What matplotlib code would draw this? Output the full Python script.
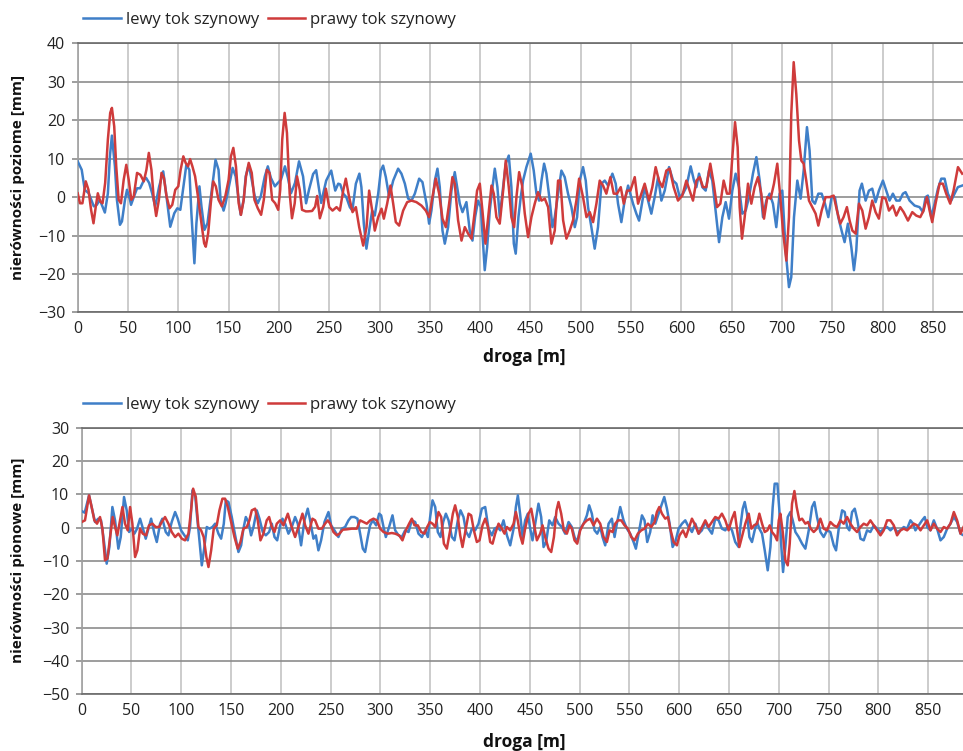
import matplotlib
matplotlib.use("Agg")
import matplotlib.pyplot as plt
import numpy as np

plt.rcParams['font.family'] = ['Open Sans', 'DejaVu Sans']

# horizontal irregularities (upper chart), distance [m] / value [mm]
poz_lewy_x = [0, 4, 7, 11, 16, 19, 22, 27, 30, 32, 34, 37, 39, 42, 44, 47, 49, 52, 53, 56,
              59, 62, 66, 68, 71, 74, 77, 81, 85, 87, 92, 96, 99, 102, 106, 108, 111, 113, 116, 118,
              121, 123, 126, 129, 132, 135, 137, 140, 142, 145, 147, 151, 154, 157, 160, 162, 165, 167, 170, 173,
              176, 179, 182, 186, 189, 192, 196, 199, 202, 206, 209, 212, 216, 220, 224, 227, 230, 234, 237, 240,
              242, 244, 247, 252, 256, 259, 261, 264, 267, 270.5, 273, 276.5, 280, 282, 284.4, 287, 289.7, 292.7, 295.3, 298.7,
              301.3, 303.6, 306.3, 309.6, 313.6, 318.5, 321.8, 325.2, 328.5, 331.8, 335.1, 339.4, 342.7, 346.7, 349.3, 351.6, 355, 357.6, 359.9, 362.6,
              364.9, 368.2, 371.5, 374.8, 377.2, 379.8, 382.5, 386.4, 389.7, 392.4, 395, 398, 400.7, 403, 404.6, 407, 409.6, 412.3, 414.6, 417.2,
              419.5, 422.9, 425.5, 428.5, 431.1, 433.5, 435.4, 438.1, 440.4, 442.7, 446, 450.3, 453.3, 456, 458.6, 461, 463.6, 465.9, 469.2, 471.9,
              474.2, 477.5, 480.8, 484.1, 487.4, 490.8, 494.1, 496.4, 499, 502.3, 505, 507.3, 510.6, 513.9, 517.2, 520.6, 523.9, 527.2, 531.5, 534.8,
              537.1, 540.4, 543.7, 547.1, 552, 555.3, 558, 560.3, 563.6, 566.9, 570.2, 573.5, 576.9, 580.2, 583.5, 587.8, 591.8, 595.1, 598.4, 601.7,
              605, 609.3, 612.6, 615, 617.6, 620.9, 624.2, 627.5, 630.8, 634.1, 637.5, 640.8, 644.1, 647.4, 650.7, 654, 657.3, 660.6, 664, 667.3,
              671.2, 674.6, 677.9, 681.2, 684.5, 687.8, 691.1, 694.4, 697.7, 700.4, 703.7, 707, 709.3, 712, 715.3, 718.6, 721.6, 724.9, 727.5, 730.2,
              732.8, 736.2, 739.5, 742.8, 746.1, 749.4, 752.7, 756, 759.3, 762.3, 765.6, 769, 771.6, 773.9, 777.2, 779.5, 783.2, 786.5, 789.8, 793.1,
              796.4, 800.4, 803.7, 807, 810.3, 813.7, 817, 820.3, 822.9, 826.9, 831.9, 836.8, 840.2, 842.8, 845.1, 848.4, 851.8, 855.1, 858.4, 861.7,
              865, 868.3, 871.6, 874.9, 879.2]
poz_lewy_y = [9.3, 7.1, 1.9, 1.0, -2.4, -2.0, -0.7, -4.0, 1.0, 10.6, 16.0, 8.0, -0.7, -7.2, -6.3, -0.7, 1.9, -0.7, -2.0, 0.2,
              2.3, 2.3, 4.5, 5.0, 3.7, 1.0, -2.4, 2.8, 6.7, 2.8, -7.7, -4.2, -2.9, -3.3, 4.5, 8.4, 7.1, -4.2, -17.2, -6.8,
              2.8, -2.4, -8.5, -6.8, -0.7, 5.4, 9.7, 7.1, -0.7, -3.5, -1.6, 3.7, 7.6, 5.4, -0.7, -4.6, -0.7, 5.4, 8.4, 4.5,
              0.2, -1.6, 0.2, 5.4, 8.0, 5.0, 2.8, 3.7, 4.5, 8.0, 5.0, 1.0, 3.7, 9.3, 5.4, -1.6, 2.0, 6.0, 7.0, 2.0,
              -1.5, 0.9, 4.3, 6.9, 1.7, 3.5, 3.3, 0.9, 0.0, -2.6, -3.5, 3.5, 6.1, 2.6, -6.9, -13.4, -8.7, -3.5, -4.8, 0.9,
              6.9, 8.2, 5.2, 0.0, 4.3, 7.4, 6.1, 3.5, -0.4, -0.9, 0.9, 4.8, 3.9, -1.7, -6.9, -3.5, 4.3, 7.4, 2.6, -8.7,
              -12.1, -7.8, 1.7, 6.5, 2.6, -1.7, -3.9, -1.3, -8.7, -11.3, -5.2, -0.9, -2.6, -12.1, -19.0, -13.0, -3.5, 2.6, 7.4, 2.6,
              -5.2, 2.6, 8.7, 10.8, 2.6, -12.1, -14.7, -5.2, 0.0, 4.3, 7.8, 11.3, 6.9, 0.9, -0.9, 4.3, 8.7, 6.1, -0.9, -7.8,
              -5.2, 0.9, 6.9, 5.2, 0.9, -2.6, -7.8, -5.2, 4.3, 7.8, 4.3, -2.6, -7.8, -13.4, -7.8, 3.5, 4.3, 3.0, 6.1, 3.5,
              -1.7, -6.5, -0.9, 3.0, -1.7, -4.3, -6.1, -2.6, 2.6, -0.9, -4.3, 0.0, 5.2, -0.9, 1.7, 7.8, 4.3, 3.5, 0.0, 0.9,
              2.6, 8.0, 4.3, 2.6, 6.1, 2.6, 1.7, 6.9, 4.3, -3.5, -11.7, -5.2, -1.3, -5.6, 1.7, 6.1, 2.6, -4.3, -3.5, 0.0,
              6.1, 10.4, 4.3, -5.2, -0.9, 0.9, -1.7, -7.8, 0.9, 1.7, -13.9, -23.4, -20.8, -5.2, 4.3, -0.4, 6.9, 18.2, 12.1, -0.9,
              -1.7, 0.9, 0.9, -1.7, -5.2, 0.0, 0.0, -5.2, -8.7, -11.7, -6.9, -13.0, -19.0, -13.9, 1.7, 3.5, -0.9, 1.7, 2.2, -1.3,
              1.7, 4.3, 1.7, -0.9, 0.9, -0.9, -0.9, 0.9, 1.3, -0.9, -2.2, -2.6, -3.9, 0.0, 0.4, -5.2, -1.7, 2.2, 4.8, 4.8,
              0.9, -0.9, 0.9, 2.6, 3.0]

poz_prawy_x = [0, 2.3, 4.7, 8, 10.7, 13.3, 15.7, 18, 20, 22.3, 24.7, 27.3, 30, 32.3, 34, 36.3, 38.3, 40.7, 43, 45.7,
               48.3, 50.7, 53.3, 55.7, 59, 62.3, 65.7, 68.3, 70.7, 73.3, 75.7, 78, 80.7, 83.3, 85.7, 88.3, 91.3, 94, 97, 100,
               102.3, 105, 107.3, 109.7, 111.7, 114, 116.7, 120, 123, 125.7, 127.3, 129.7, 132.3, 134.7, 137.3, 140, 143.3, 146.7, 150, 152.3,
               154.7, 157.3, 160, 162.3, 165, 167.3, 170, 173, 175.7, 179, 182.3, 185, 188, 190.7, 193.3, 196.3, 199.3, 201.3, 203.3, 205.7,
               208, 210.7, 213, 215.7, 218, 220.7, 223, 226.7, 229, 233, 236, 238, 240.7, 244, 246.7, 250, 253.3, 257.3, 260.6, 263.9,
               266.5, 269.8, 273.2, 276.5, 279.8, 283.8, 287.1, 289.7, 292.7, 295.3, 298.7, 302, 304.3, 307.6, 310.9, 313.6, 316.2, 319.5, 323.5, 327.5,
               331.8, 336.7, 341.7, 346, 349.3, 352.6, 356, 359.3, 362.6, 365.9, 369.2, 372.5, 374.8, 378.1, 381.5, 384.8, 388.1, 391.4, 394, 397,
               399.7, 402.3, 405.3, 408, 411.3, 413.6, 416.2, 419.5, 422.9, 425.5, 428.5, 431.1, 433.8, 436.1, 438.8, 441.7, 444.4, 447.7, 451, 454.3,
               457.6, 461, 464.3, 467.6, 470.9, 474.2, 477.5, 479.8, 482.5, 485.8, 489.1, 492.4, 495.7, 498.4, 502.3, 505.7, 509, 512.3, 515.6, 518.9,
               522.2, 525.5, 529.5, 532.8, 536.1, 539.8, 542.8, 546.1, 549.4, 553.7, 557, 560.3, 563.6, 567.9, 571.2, 574.5, 577.8, 581.2, 585.1, 588.4,
               592.4, 596.7, 601, 605, 608.3, 611.6, 615, 618.3, 621.6, 624.9, 628.8, 632.2, 635.5, 638.8, 642.1, 645.4, 648.1, 650.7, 653.4, 656,
               658, 660.3, 663, 666.3, 669.6, 672.9, 676.2, 679.5, 682.2, 685.5, 688.8, 692.1, 695.4, 698.4, 701, 704.4, 707, 709.3, 711.7, 714.3,
               717, 719.3, 721.6, 724.2, 726.9, 730.2, 733.5, 736.2, 739.5, 743.4, 747.4, 751.4, 754.7, 758, 761.3, 764.6, 767.3, 770, 773.3, 776.6,
               779.9, 783.2, 786.5, 789.8, 793.1, 796.4, 799.8, 803.1, 806.4, 810.3, 813.7, 817.6, 821, 825.3, 829.6, 833.5, 837.5, 840.8, 844.1, 846.8,
               849.4, 852.7, 856.7, 860, 863.3, 867.3, 870.6, 875, 879.2]
poz_prawy_y = [1.0, -1.6, -1.6, 4.1, 1.9, -3.3, -6.8, -2.4, 1.0, -1.1, -1.6, 3.7, 15.0, 21.9, 23.2, 18.4, 8.0, -0.7, -1.6, 4.5,
               8.4, 4.5, -0.7, 0.2, 6.3, 5.8, 4.1, 7.1, 11.5, 7.1, -0.7, -4.9, -0.7, 6.3, 5.0, 0.2, -2.9, -2.0, 1.9, 2.8,
               7.1, 10.6, 8.9, 8.0, 9.9, 8.0, 5.4, -0.7, -6.8, -12.0, -12.9, -9.4, -1.6, 4.1, 2.8, -0.7, -2.4, 0.2, 4.5, 10.6,
               12.8, 8.0, -1.6, -4.6, -0.7, 5.4, 8.9, 6.3, -0.7, -2.9, -4.6, -0.7, 7.1, 6.3, -0.7, -1.6, -3.3, 1.9, 15.0, 21.9,
               16.7, 1.0, -5.5, -1.6, 5.4, 1.9, -3.3, -3.7, -3.7, -3.6, -2.5, 0.3, -5.5, -2.6, 2.2, -2.6, -3.5, -2.6, -3.5, 1.7,
               4.8, 0.0, -3.9, -2.6, -7.8, -12.6, -7.8, 1.7, -3.5, -8.7, -5.2, -3.0, -5.6, -1.7, 3.0, -1.7, -6.5, -7.4, -3.5, -1.3,
               -0.9, -1.3, -2.2, -3.5, -5.2, 0.0, 4.8, 0.9, -5.6, -7.8, -1.7, 5.2, 3.5, -6.0, -11.3, -7.8, -9.5, -10.8, -5.2, 1.7,
               3.5, -3.5, -12.1, -5.2, 3.0, 0.9, -5.2, -6.9, 1.7, 9.5, 2.6, -5.2, -7.8, 0.0, 6.5, 3.0, -4.3, -10.4, -5.2, -1.7,
               1.3, -0.9, -0.4, -2.6, -12.1, -8.7, 4.3, 4.3, -6.0, -10.8, -8.7, -6.0, -0.9, 4.8, 0.0, -5.2, -3.9, -6.5, -1.7, 4.3,
               3.0, 0.9, 5.2, 0.9, 0.9, 2.6, -1.7, 1.7, 1.7, 5.2, -1.7, 0.9, 3.5, -0.9, 2.6, 7.8, 4.3, 2.6, 6.9, 7.4,
               2.6, -0.9, 0.4, 4.3, 1.7, -0.9, 4.3, 5.2, 2.6, 2.6, 8.7, 3.5, -2.6, -1.7, 4.3, 0.9, 0.9, 10.4, 19.5, 13.0,
               -2.6, -10.8, -5.2, 3.5, -1.7, 2.6, 5.2, 0.9, -5.6, 0.0, -0.4, 3.5, 8.7, 0.0, -8.7, -16.5, -5.2, 21.6, 35.1, 26.8,
               14.7, 9.5, 8.7, 4.3, -0.9, -2.6, -4.3, -7.4, -3.5, 0.0, 0.0, 0.4, -3.5, -6.9, -5.2, -2.6, -6.1, -8.7, -9.5, -1.7,
               -3.5, -8.2, -5.2, -0.9, -3.9, -5.6, 0.0, -0.4, -3.5, -2.2, -4.8, -2.6, -3.9, -6.1, -3.9, -4.8, -5.2, -3.5, 0.0, -3.5,
               -6.5, -1.7, 3.5, 3.5, 0.9, -1.7, 1.7, 7.8, 6.1]

# vertical irregularities (lower chart)
pion_lewy_x = [0, 3, 7.4, 10.7, 13.4, 16.7, 19.4, 21.8, 25.1, 27.8, 30.8, 33.5, 36.8, 39.2, 42.5, 45.2, 47.6, 50.2, 52.9, 55.6,
               58.6, 62, 64.3, 67, 69.7, 73, 75.4, 78.7, 81, 84.4, 87.1, 90.4, 93.8, 96.4, 99.8, 103.1, 106.5, 108.8, 111.2, 113.9,
               115.9, 117.9, 120.6, 123.2, 125.6, 128.3, 131.3, 134, 137.3, 140, 142.7, 144.7, 147.4, 150.7, 154.1, 157.4, 160.1, 162.4, 164.8, 167.4,
               170.1, 172.5, 175.8, 178.5, 181.8, 184.9, 188.2, 190.9, 193.6, 196.3, 199.3, 201.6, 204.3, 207.6, 211, 214.3, 217, 220.3, 223.7, 227,
               229.4, 232.7, 235.1, 237.7, 240.4, 243.8, 247.8, 250.5, 253.8, 257.8, 261.2, 264.5, 267.9, 270.6, 273.9, 276.9, 279.6, 282.3, 284.6, 287.3,
               289.6, 292.3, 295.7, 298.7, 300.7, 303.1, 305.4, 308.7, 312.1, 314.8, 318.1, 321.5, 324.8, 328.2, 331.5, 334.9, 338.2, 341.6, 344.9, 347.6,
               349.9, 352.3, 355, 357.6, 360.3, 363, 365.7, 368.4, 371.7, 374.4, 377.7, 380.4, 383.4, 386.1, 389.1, 391.8, 395.1, 398.5, 401.8, 405.2,
               408.5, 411.9, 414.6, 417.6, 420.3, 423.6, 427, 430.3, 433.7, 436, 438, 440.3, 442.7, 445.3, 448, 450.4, 452.7, 455.4, 458.7, 461.4,
               463.8, 466.4, 469.5, 472.8, 475.5, 478.8, 482.2, 485.5, 488.9, 492.2, 494.9, 497.6, 500.6, 504, 507.3, 509.6, 512.3, 515, 517.7, 520.7,
               523, 525.7, 529.1, 532.4, 535.1, 537.4, 540.8, 544.1, 547.5, 550.8, 554.2, 556.5, 559.2, 562.6, 565.2, 567.9, 570.9, 573.3, 576, 579.3,
               582.7, 585, 587.7, 590.4, 593.4, 596.1, 599.4, 602.8, 606.1, 609.5, 612.8, 616.2, 619.5, 622.8, 626.2, 629.5, 632.9, 636.2, 639.6, 642.9,
               646.3, 649.6, 653, 656.3, 659.7, 661.4, 663.8, 665.8, 668.1, 670.5, 673.1, 675.8, 678.2, 680.5, 683.2, 685.9, 688.9, 691.6, 693.9, 695.9,
               698.6, 700.6, 702.6, 704.3, 706.6, 709, 711.7, 714, 716.7, 720, 723.4, 726.7, 730.1, 733.4, 735.8, 738.4, 741.8, 745.1, 748.5, 751.8,
               755.2, 757.5, 760.2, 763.6, 766.2, 768.6, 770.9, 773.6, 776.3, 779, 782, 785.3, 788.7, 792, 795.4, 798.7, 802.1, 805.4, 808.8, 812.1,
               815.5, 818.8, 822.2, 825.5, 828.9, 832.2, 834.9, 837.2, 840.6, 843.9, 846.6, 849, 852.3, 855.7, 859, 862.4, 865.7, 869.1, 872.4, 875.8,
               879.1, 882.5, 885.5]
pion_lewy_y = [5.0, 4.5, 9.7, 5.2, 1.7, 2.7, 2.2, -2.8, -10.8, -5.8, 6.2, 2.2, -6.3, -2.8, 9.2, 5.2, -1.3, -0.3, -1.8, -0.3,
               2.7, -0.8, -3.3, -0.3, 2.7, -1.8, -4.3, 1.2, 2.7, -1.3, -2.3, 1.7, 4.7, 2.7, -0.8, -2.3, -3.8, 0.2, 11.2, 9.7,
               3.2, -2.8, -11.3, -5.8, 0.2, -0.3, 0.2, 1.2, -1.8, -3.3, 1.2, 8.2, 7.7, 3.2, -2.3, -7.3, -5.3, -0.3, 3.2, 1.7,
               -2.3, 0.2, 5.2, 2.7, -1.3, -2.3, -1.3, 1.2, -2.8, -3.8, 0.7, 2.7, 1.2, -1.8, 0.2, 3.2, 1.2, -5.3, 2.2, 5.7,
               2.2, -3.3, -2.3, -6.8, -3.8, 1.7, 4.7, 0.7, -0.8, -2.8, -0.3, 0.2, 2.2, 3.2, 3.2, 2.7, -1.8, -6.3, -7.3, -2.8,
               0.7, 2.2, 0.7, 4.2, 3.7, 0.2, -2.8, 0.2, 3.7, -0.8, -2.3, -2.8, -0.8, -1.3, 2.2, 1.7, -1.8, -2.8, -0.8, -2.8,
               3.2, 8.2, 6.2, -1.3, -2.8, 1.7, 4.2, 2.2, -2.8, -3.8, 2.2, 5.2, 3.2, -1.3, -2.8, -0.3, -0.8, 1.2, 5.7, 6.2,
               -0.3, -2.3, -0.3, 0.2, -0.8, 2.2, -2.3, -5.3, -0.3, 6.2, 9.7, 4.0, -2.8, 2.2, 4.2, -0.3, -3.8, 1.2, 7.2, 3.2,
               -5.8, -4.3, 2.2, 0.7, 3.2, 1.2, 0.2, -1.8, 1.7, 0.2, -2.8, -4.3, -0.3, 1.2, 3.7, 6.7, 4.2, -0.8, -1.8, 0.2,
               -2.8, -5.3, 1.2, 2.7, -2.8, 1.2, 6.2, 2.2, -0.3, -1.8, -4.3, -6.3, -1.8, 3.7, 2.2, -4.3, -1.3, 3.7, 1.2, 4.2,
               7.2, 9.2, 5.7, 1.2, -5.8, -4.3, -0.3, 1.2, 2.2, 0.2, -1.3, 1.2, -1.8, -0.8, 1.7, -0.3, -1.8, 2.7, 2.2, -0.3,
               -0.8, 0.7, -0.8, -4.3, -5.8, 0.2, 5.7, 7.7, 4.2, -2.8, -4.3, -0.8, 1.7, -0.3, -1.8, -6.8, -12.8, -5.8, 6.2, 13.2,
               13.2, 5.2, -5.8, -13.3, -5.8, 3.2, 4.7, 2.2, -1.3, -2.8, -4.8, -6.3, -0.8, 6.2, 7.7, 3.2, -1.3, -2.8, -0.8, -1.3,
               -5.3, -6.8, -0.3, 5.2, 4.7, 0.2, -0.8, 4.7, 5.7, 2.2, -3.3, -3.8, -0.8, -1.3, 0.7, -0.3, -1.3, -0.3, 0.2, -0.8,
               0.2, -1.3, -0.8, 0.2, -0.3, 2.2, 1.2, -0.8, 0.7, 2.2, 3.2, 0.2, -0.8, 2.2, -0.3, -3.8, -2.8, -0.3, 1.2, 3.2,
               1.7, -1.8, -2.3]

pion_prawy_x = [0, 3.3, 7.4, 10, 12.7, 15.4, 18.4, 20.8, 23.4, 25.8, 28.5, 31.1, 33.5, 35.8, 38.5, 40.9, 43.5, 46.2, 48.6, 50.9,
                53.6, 55.9, 58.6, 61.3, 64.6, 67.6, 71, 74.3, 77.7, 80.4, 83.7, 87.1, 90.4, 93.8, 97.1, 100.5, 103.8, 107.2, 109.8, 111.9,
                114.6, 117.2, 119.9, 122.5, 125.2, 127.3, 130, 132.6, 135.6, 138.3, 141.3, 144, 146.7, 150, 153.4, 156.7, 159.4, 162.4, 165.8, 168.4,
                170.8, 174.1, 176.8, 179.5, 182.5, 185.8, 188.2, 190.9, 193.6, 195.9, 199.3, 202.6, 207, 210.3, 214.3, 217.6, 221.7, 224.4, 227.7, 231.7,
                234.4, 237.7, 241.1, 244.4, 247.1, 249.5, 252.8, 256.2, 258.8, 262.2, 266.2, 271.2, 276.3, 279.6, 283, 286.3, 289.7, 293, 296.4, 299.7,
                303.1, 307.4, 311.4, 314.8, 318.8, 322.1, 325.5, 328.8, 331.5, 334.2, 337.5, 340.9, 344.2, 346.9, 349.6, 352.3, 355, 358.3, 361, 363.7,
                366.7, 370, 372.7, 375, 377.7, 380.1, 382.4, 385.8, 388.5, 391.1, 393.8, 396.8, 399.5, 402.5, 405.2, 407.9, 410.2, 412.6, 415.2, 418.6,
                421.9, 424.6, 427, 430.3, 433.7, 436, 438, 440.3, 442.7, 445.3, 448.7, 451.4, 454.1, 457.1, 460.4, 462.8, 465.4, 468.8, 471.5, 474.2,
                476.8, 478.8, 481.5, 484.2, 487.2, 489.9, 492.2, 494.9, 497.6, 500.6, 504, 507.3, 510.7, 514, 517.4, 520.7, 524.1, 527.4, 530.1, 533.1,
                535.8, 538.5, 541.8, 545.1, 548.5, 551.9, 555.2, 558.5, 561.9, 565.2, 568.6, 571.9, 575.3, 577.6, 580, 582.7, 586, 588.7, 591, 594.4,
                597.7, 600.4, 603.8, 606.8, 609.5, 612.8, 616.2, 619.5, 622.8, 626.2, 629.5, 632.9, 636.2, 639.6, 642.9, 646.3, 649.6, 653, 655.7, 658,
                660.4, 663.8, 666.4, 669.8, 672.5, 675.2, 678.2, 680.5, 683.2, 685.9, 688.6, 690.9, 693.2, 695.9, 698.3, 700, 701.6, 704, 706.6, 709,
                711, 713.3, 715.7, 718, 720.7, 723.4, 726.7, 729.4, 732.1, 735.1, 738.4, 741.8, 745.1, 748.5, 751.8, 755.2, 758.5, 761.9, 765.2, 768.6,
                771.9, 775.3, 778.6, 782, 785.3, 788.7, 792, 795.4, 798.7, 802.1, 805.4, 808.8, 812.1, 815.5, 818.8, 822.2, 825.5, 828.9, 832.2, 835.6,
                838.9, 842.3, 845.6, 849, 852.3, 855.7, 859, 862.4, 865.7, 869.1, 872.4, 875.8, 879.1, 882.5, 885.5]
pion_prawy_y = [1.7, 2.2, 9.7, 6.2, 2.2, 1.2, 3.2, -0.3, -9.8, -9.3, -2.8, 3.2, 0.2, -2.3, 2.2, 6.2, 1.2, -0.8, 6.2, 1.2,
                -8.8, -6.8, -0.3, -1.8, -2.3, 0.7, 1.2, 0.2, 0.2, 1.7, 3.2, 1.2, -1.3, -2.8, -1.8, -3.3, -3.8, -1.8, 5.2, 11.7,
                9.2, 0.2, -0.8, -2.8, -8.8, -11.8, -6.8, -0.3, 0.7, 5.2, 8.7, 8.7, 6.2, 1.7, -2.8, -6.3, -4.3, -0.3, 0.2, 2.2,
                5.2, 5.7, 2.2, -3.8, -1.8, 2.2, 3.2, 0.2, -1.3, 1.2, 2.2, 0.7, 4.2, 0.7, -2.8, 0.2, 4.2, 0.7, -1.8, 2.7,
                2.2, -0.3, -0.3, 1.2, 2.2, 1.2, -1.3, -2.3, -1.8, -0.6, -0.5, -0.3, -0.3, 2.2, 1.7, 1.2, 2.2, 2.7, 2.2, -0.3,
                -1.3, -1.8, -1.6, -1.8, -2.3, -3.8, -0.8, 1.2, 2.7, 0.7, 0.7, -1.3, -1.8, 0.2, 1.7, 1.2, 0.2, 4.7, 3.2, -4.8,
                -6.3, -0.8, 4.2, 6.7, 3.2, -2.3, -5.8, -0.3, 4.2, 3.7, -0.8, -4.3, -3.8, 0.7, 2.7, 0.2, -4.3, -4.8, -1.8, 1.2,
                -0.3, -1.8, 0.2, -0.8, 1.2, 4.7, 2.0, -2.3, -4.8, -0.3, 4.2, 5.7, 1.2, -3.8, -1.8, 0.7, -2.8, -6.3, -7.3, -2.8,
                5.2, 7.7, 4.2, -0.8, -1.8, 0.7, -0.3, -3.8, -4.8, -0.8, 1.2, 2.2, 2.7, 0.7, 2.7, 1.2, -2.8, -4.3, -0.8, -1.3,
                1.2, 2.2, 2.2, 0.7, -0.3, -2.8, -3.8, -1.8, -0.8, -0.3, 1.2, 0.2, 1.7, 4.7, 6.2, 4.2, 2.7, 3.2, -0.3, -4.3,
                -5.3, -2.3, -0.8, -2.8, -0.3, 2.7, 0.7, -1.8, 0.2, 2.2, 0.2, 1.7, 3.2, 2.7, 4.2, 2.2, -0.8, 2.7, 4.7, -0.3,
                -5.8, -1.8, 1.2, 4.2, -0.3, 0.7, 1.2, 4.2, 1.2, -1.3, -0.8, 0.7, -1.3, -2.3, -3.8, 2.2, 4.2, -1.3, -9.8, -11.3,
                -4.8, 7.2, 11.0, 6.2, 2.2, 2.7, 1.2, 1.7, -0.3, -1.3, -0.3, 2.7, -0.3, -0.8, 1.7, 0.7, 0.2, 2.2, 1.2, 3.2,
                1.2, -0.3, -1.3, 0.2, 1.2, 0.7, 2.2, 0.7, -0.8, -2.3, -0.8, 2.2, 2.2, 0.7, -2.3, -0.8, -0.3, -0.8, 0.2, 1.2,
                0.7, -0.8, 0.7, 2.2, -0.8, 1.2, -0.3, -1.3, 0.2, -0.3, 1.2, 4.7, 2.2, -1.8, 0.2]

seria_nazwy = ['lewy tok szynowy', 'prawy tok szynowy']
kolory = ['#3f7fc8', '#cf3b3b']
x_ticks = list(range(0, 851, 50))

W, H = 963, 751
fig = plt.figure(figsize=(W / 100, H / 100), dpi=100)


def px_box(left, top, right, bottom):
    return [left / W, 1 - bottom / H, (right - left) / W, (bottom - top) / H]


def draw_panel(ax, lewy, prawy, ylim, yticks, xmax, ylabel, ylab_y, xlab_y, leg_y):
    ax.plot(lewy[0], lewy[1], color=kolory[0], lw=1.8, label=seria_nazwy[0], zorder=3,
            solid_joinstyle='round')
    ax.plot(prawy[0], prawy[1], color=kolory[1], lw=1.8, label=seria_nazwy[1], zorder=4,
            solid_joinstyle='round')
    ax.set_xlim(0, xmax)
    ax.set_ylim(*ylim)
    ax.set_xticks(x_ticks)
    ax.set_yticks(yticks)
    ax.xaxis.grid(True, color='#c4c4c4', lw=1.2)
    ax.yaxis.grid(True, color='#8c8c8c', lw=1.2)
    ax.set_axisbelow(True)
    ax.tick_params(axis='x', length=0, pad=6, labelsize=11.5, colors='#222222')
    ax.tick_params(axis='y', length=4, width=1.2, color='#8c8c8c', pad=5,
                   labelsize=11.5, labelcolor='#222222')
    ax.spines['right'].set_visible(False)
    ax.spines['top'].set_color('#6a6a6a')
    ax.spines['bottom'].set_color('#6a6a6a')
    ax.spines['left'].set_color('#a0a0a0')
    for s in ax.spines.values():
        s.set_linewidth(1.2)
    fig.text(18 / W, 1 - ylab_y / H, ylabel, rotation=90, ha='center', va='center',
             fontsize=11, fontweight='bold', color='#111111')
    fig.text(524 / W, 1 - xlab_y / H, 'droga [m]', ha='center', va='center',
             fontsize=12.5, fontweight='bold', color='#111111')
    fig.legend(handles=ax.get_lines(), loc='center left', bbox_to_anchor=(83 / W, 1 - leg_y / H),
               ncol=2, frameon=False, fontsize=12, handlelength=2.25, handletextpad=0.3,
               columnspacing=0.55, borderpad=0, borderaxespad=0, labelcolor='#222222')


ax1 = fig.add_axes(px_box(77.7, 43.3, 963, 312.5))
draw_panel(ax1, (poz_lewy_x, poz_lewy_y), (poz_prawy_x, poz_prawy_y), (-30, 40),
           range(-30, 41, 10), 880, 'nierówności poziome [mm]', 177.5, 357, 20)

ax2 = fig.add_axes(px_box(81.7, 427.7, 963, 694.3))
draw_panel(ax2, (pion_lewy_x, pion_lewy_y), (pion_prawy_x, pion_prawy_y), (-50, 30),
           range(-50, 31, 10), 885, 'nierówności pionowe [mm]', 560.5, 742, 405)

fig.savefig('out.png', dpi=100)
